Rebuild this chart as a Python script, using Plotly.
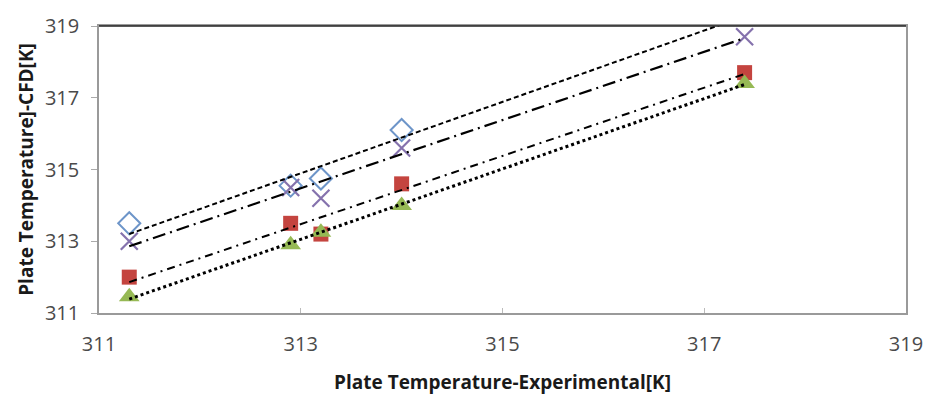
import numpy as np
import plotly.graph_objects as go

x_exp = [311.3, 312.9, 313.2, 314.0, 317.4]
cfd_diamond = [313.5, 314.55, 314.75, 316.1, 319.35]
cfd_cross = [313.0, 314.5, 314.2, 315.6, 318.7]
cfd_square = [312.0, 313.5, 313.2, 314.6, 317.7]
cfd_triangle = [311.45, 312.9, 313.25, 314.0, 317.4]
tick_vals = [311, 313, 315, 317, 319]

series = [
    ("diamond", cfd_diamond, dict(symbol="diamond-open", size=17, color="#6d95c9", line=dict(width=2, color="#6d95c9")), "5px,3px", 2),
    ("cross", cfd_cross, dict(symbol="x-thin-open", size=17, color="#8572ad", line=dict(width=2.2, color="#8572ad")), "13px,5px,2px,5px", 2.2),
    ("square", cfd_square, dict(symbol="square", size=15, color="#c4443f"), "8px,5px,2px,5px", 2),
    ("triangle", cfd_triangle, dict(symbol="triangle-up", size=18, color="#96b954"), "dot", 3),
]

fig = go.Figure()
xs = np.array(x_exp)
for name, ys, mk, dash, lw in series:
    fig.add_trace(go.Scatter(x=x_exp, y=ys, mode="markers", marker=mk, name=name, showlegend=False))
for name, ys, mk, dash, lw in series:
    m, c = np.polyfit(xs, np.array(ys), 1)
    xl = [xs.min(), xs.max()]
    fig.add_trace(go.Scatter(x=xl, y=[m * v + c for v in xl], mode="lines",
                             line=dict(color="black", dash=dash, width=lw), showlegend=False))

tickfont = dict(family="Open Sans, Lato, sans-serif", size=20, color="#4a4a4a")
titlefont = dict(family="Open Sans, sans-serif", size=19, color="#1a1a1a")
fig.update_layout(
    width=935, height=403,
    margin=dict(l=99, r=20, t=19, b=90),
    paper_bgcolor="white", plot_bgcolor="white",
    xaxis=dict(range=[311, 319], tickvals=tick_vals, tickfont=tickfont, ticklabelstandoff=12,
               showgrid=False, zeroline=False, showline=True, linecolor="#9a9a9a", linewidth=1.5,
               mirror=True, ticks="inside", ticklen=5, tickcolor="#bbb",
               title=dict(text="<b>Plate Temperature-Experimental[K]</b>", font=titlefont, standoff=20)),
    yaxis=dict(range=[311, 319], tickvals=tick_vals, tickfont=tickfont, ticklabelstandoff=8,
               showgrid=False, zeroline=False, showline=True, linecolor="#9a9a9a", linewidth=1.5,
               mirror=True, ticks="outside", ticklen=6, tickcolor="#aaa",
               title=dict(text="<b>Plate Temperature]-CFD[K]</b>", font=titlefont, standoff=6)),
    shapes=[dict(type="line", xref="paper", yref="paper", x0=0, x1=1, y0=1, y1=1,
                 line=dict(color="#222", width=1.5))],
)

fig.write_html("out.html")
